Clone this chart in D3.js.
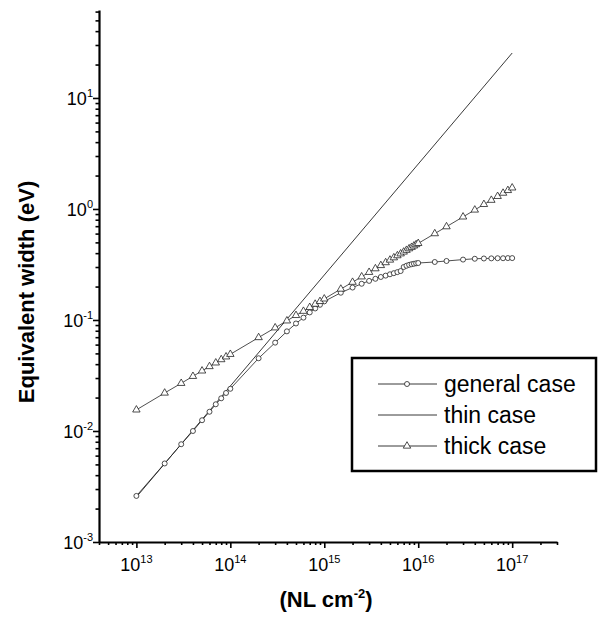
<!DOCTYPE html>
<html>
<head>
<meta charset="utf-8">
<script src="https://cdn.jsdelivr.net/npm/d3@7"></script>
<style>
  body { margin: 0; background: #fff; }
  svg { display: block; font-family: "Liberation Sans", Arial, sans-serif; }
</style>
</head>
<body>
<script>
// column density NL (cm^-2) where the curves were sampled
const columnDensity = [
    1e13, 2e13, 3e13, 4e13, 5e13, 6e13, 7e13, 8e13, 9e13, 1e14,
    2e14, 3e14, 4e14, 5e14, 6e14, 7e14, 8e14, 9e14, 1e15,
    1.5e15, 2e15, 2.5e15, 3e15, 3.5e15, 4e15, 4.5e15, 5e15, 5.5e15, 6e15,
    6.5e15, 7e15, 7.5e15, 8e15, 8.5e15, 9e15, 9.5e15, 1e16,
    1.5e16, 2e16, 3e16, 4e16, 5e16, 6e16, 7e16, 8e16, 9e16, 1e17
]

// equivalent width (eV), general case
const generalCase = [
    0.00260, 0.00510, 0.00760, 0.0100, 0.0125, 0.0149, 0.0174, 0.0197, 0.0220, 0.0240,
    0.0452, 0.0625, 0.0790, 0.0930, 0.105, 0.117, 0.127, 0.137, 0.147,
    0.176, 0.196, 0.212, 0.225, 0.235, 0.244, 0.251, 0.258, 0.264, 0.270,
    0.276, 0.300, 0.308, 0.314, 0.318, 0.321, 0.324, 0.326,
    0.333, 0.340, 0.350, 0.356, 0.358, 0.359, 0.360, 0.360, 0.361, 0.361
]

// equivalent width (eV), thick case
const thickCase = [
    0.0155, 0.0220, 0.0269, 0.0311, 0.0348, 0.0381, 0.0411, 0.0440, 0.0466, 0.0491,
    0.0695, 0.0851, 0.0983, 0.110, 0.120, 0.130, 0.139, 0.147, 0.155,
    0.190, 0.219, 0.245, 0.269, 0.290, 0.310, 0.329, 0.347, 0.364, 0.380,
    0.395, 0.410, 0.425, 0.439, 0.452, 0.465, 0.478, 0.490,
    0.600, 0.693, 0.849, 0.980, 1.10, 1.20, 1.30, 1.39, 1.47, 1.55
]

// thin case is a straight line, no markers
const thinN = [1e13, 1e14, 1e15, 1e16, 1e17]
const thinCase = [0.00254, 0.0254, 0.254, 2.54, 25.4]

const xMajor = [1e13, 1e14, 1e15, 1e16, 1e17]
const xExp = ['13', '14', '15', '16', '17']
const yMajor = [1e-3, 1e-2, 1e-1, 1e0, 1e1]
const yExp = ['-3', '-2', '-1', '0', '1']
const legendNames = ['general case', 'thin case', 'thick case']

const [width, height] = [598, 618]

const svg = d3.select('body')
    .append('svg')
        .attr('width', width)
        .attr('height', height)

const x = d3.scaleLog().domain([4e12, 3e17]).range([99, 557])
const y = d3.scaleLog().domain([1e-3, 62]).range([542, 10])

const isMajor = v => Math.abs(Math.log10(v) - Math.round(Math.log10(v))) < 1e-9

// x axis: minor ticks, then major ticks, labels drawn by hand for the superscripts
svg.append('g')
    .attr('transform', 'translate(0,542)')
    .call(d3.axisBottom(x).tickValues(x.ticks().filter(v => !isMajor(v))).tickSize(3).tickFormat(''))
    .call(g => g.select('.domain').remove())
svg.append('g')
    .attr('transform', 'translate(0,542)')
    .call(d3.axisBottom(x).tickValues(xMajor).tickSize(6).tickSizeOuter(0).tickFormat(''))
    .call(g => g.select('.domain').attr('stroke-width', 2.2))

svg.append('g')
    .attr('transform', 'translate(99,0)')
    .call(d3.axisLeft(y).tickValues(y.ticks().filter(v => !isMajor(v))).tickSize(3.5).tickFormat(''))
    .call(g => g.select('.domain').remove())
svg.append('g')
    .attr('transform', 'translate(99,0)')
    .call(d3.axisLeft(y).tickValues(yMajor).tickSize(6).tickSizeOuter(0).tickFormat(''))
    .call(g => g.select('.domain').attr('stroke-width', 2.2))

svg.selectAll('line').attr('stroke-width', 1.6)

const xLab = svg.append('g').selectAll('text')
    .data(xMajor)
    .enter()
    .append('text')
        .attr('x', d => x(d))
        .attr('y', 571)
        .attr('text-anchor', 'middle')
        .attr('font-size', 18)
xLab.append('tspan').text('10')
xLab.append('tspan').attr('font-size', 11).attr('dy', -8).text((d, i) => xExp[i])

const yLab = svg.append('g').selectAll('text')
    .data(yMajor)
    .enter()
    .append('text')
        .attr('x', 93)
        .attr('y', d => y(d) + 7)
        .attr('text-anchor', 'end')
        .attr('font-size', 18)
yLab.append('tspan').text('10')
yLab.append('tspan').attr('font-size', 11).attr('dy', -8).text((d, i) => yExp[i])

// axis titles
svg.append('text')
    .attr('transform', 'translate(34,292) rotate(-90)')
    .attr('text-anchor', 'middle')
    .attr('font-size', 22)
    .attr('font-weight', 'bold')
    .text('Equivalent width (eV)')

const xTitle = svg.append('text')
    .attr('x', 326)
    .attr('y', 607)
    .attr('text-anchor', 'middle')
    .attr('font-size', 22)
    .attr('font-weight', 'bold')
xTitle.append('tspan').text('(NL cm')
xTitle.append('tspan').attr('font-size', 13).attr('dy', -9).text('-2')
xTitle.append('tspan').attr('dy', 9).text(')')

// curves
const line = d3.line().x(d => x(d[0])).y(d => y(d[1]))
const ink = '#222'

svg.append('path')
    .datum(d3.zip(thinN, thinCase))
    .attr('d', line)
    .attr('fill', 'none')
    .attr('stroke', ink)
    .attr('stroke-width', 0.9)

svg.append('path')
    .datum(d3.zip(columnDensity, generalCase))
    .attr('d', line)
    .attr('fill', 'none')
    .attr('stroke', ink)
    .attr('stroke-width', 0.8)

svg.append('path')
    .datum(d3.zip(columnDensity, thickCase))
    .attr('d', line)
    .attr('fill', 'none')
    .attr('stroke', ink)
    .attr('stroke-width', 0.8)

const tri = d3.symbol().type(d3.symbolTriangle).size(24)

svg.append('g').selectAll('circle')
    .data(d3.zip(columnDensity, generalCase))
    .enter()
    .append('circle')
        .attr('cx', d => x(d[0]))
        .attr('cy', d => y(d[1]))
        .attr('r', 2.5)
        .attr('fill', 'white')
        .attr('stroke', ink)
        .attr('stroke-width', 0.8)

svg.append('g').selectAll('path')
    .data(d3.zip(columnDensity, thickCase))
    .enter()
    .append('path')
        .attr('d', tri)
        .attr('transform', d => `translate(${x(d[0])},${y(d[1])})`)
        .attr('fill', 'white')
        .attr('stroke', ink)
        .attr('stroke-width', 0.8)

// legend
const legend = svg.append('g')
legend.append('rect')
    .attr('x', 352)
    .attr('y', 358)
    .attr('width', 244)
    .attr('height', 113)
    .attr('fill', 'white')
    .attr('stroke', 'black')
    .attr('stroke-width', 2.5)

const rowY = [384, 415, 446]
legendNames.forEach((name, i) => {
    legend.append('line')
        .attr('x1', 378).attr('x2', 437)
        .attr('y1', rowY[i]).attr('y2', rowY[i])
        .attr('stroke', ink)
        .attr('stroke-width', 0.9)
    if (i === 0) {
        legend.append('circle')
            .attr('cx', 407).attr('cy', rowY[i]).attr('r', 2.5)
            .attr('fill', 'white').attr('stroke', ink).attr('stroke-width', 0.8)
    }
    if (i === 2) {
        legend.append('path')
            .attr('d', tri)
            .attr('transform', `translate(407,${rowY[i]})`)
            .attr('fill', 'white').attr('stroke', ink).attr('stroke-width', 0.8)
    }
    legend.append('text')
        .attr('x', 444)
        .attr('y', rowY[i] + 8)
        .attr('font-size', 23)
        .text(name)
})
</script>
</body>
</html>
